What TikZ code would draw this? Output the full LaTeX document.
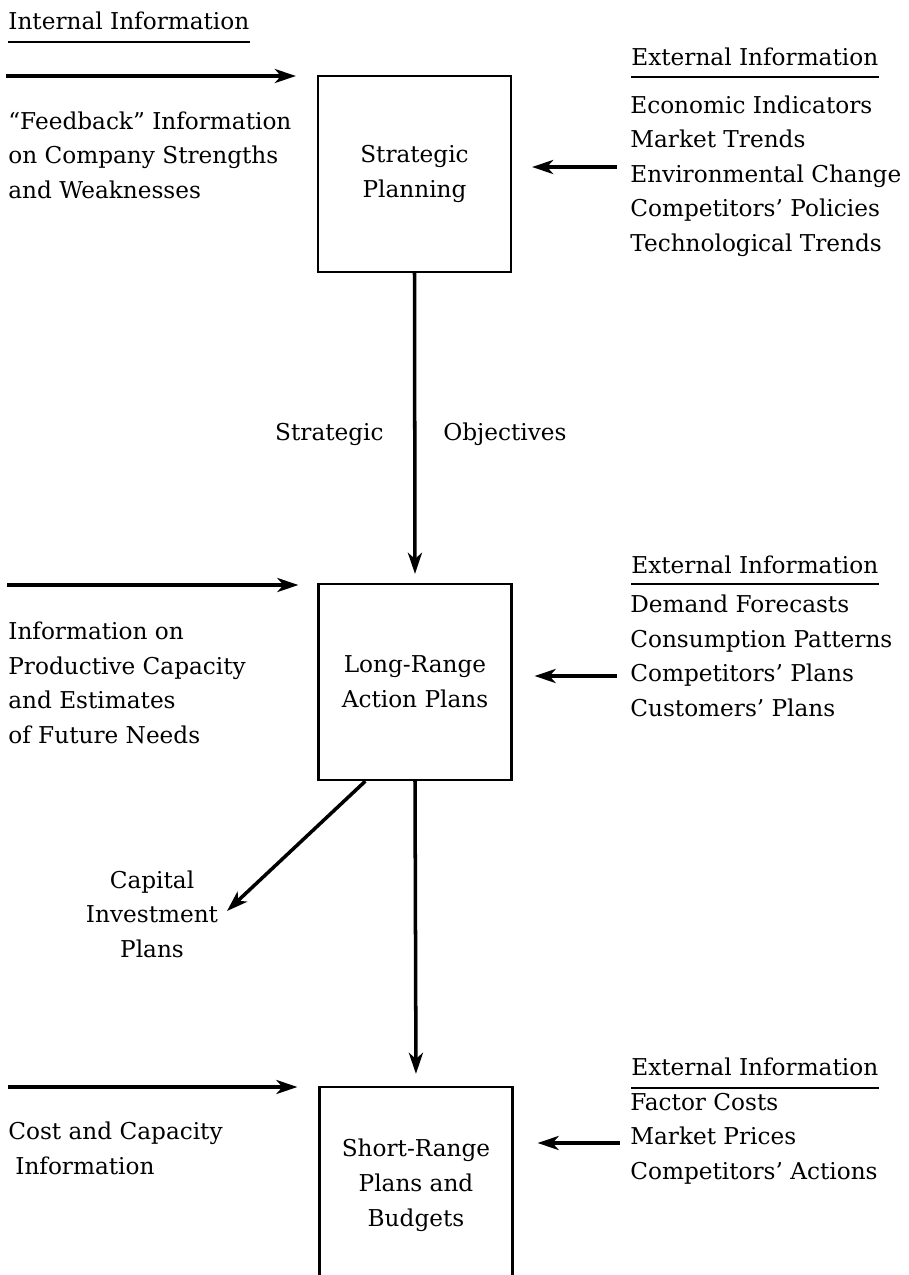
\documentclass[tikz,border=0pt]{standalone}
\usepackage{fontspec}
\setmainfont{DejaVu Serif}
\usetikzlibrary{arrows.meta}
\tikzset{
  txt/.style={font=\fontsize{13.2}{19.56}\selectfont, inner sep=0pt, align=left},
  planbox/.style={draw, line width=1.3pt, minimum width=3.86cm, minimum height=3.92cm,
    align=center, font=\fontsize{13.2}{19.8}\selectfont},
  flow/.style={line width=2pt, -{Stealth[length=12pt,width=8pt,inset=3.5pt]}},
  rule/.style={line width=0.9pt}
}
\begin{document}
\begin{tikzpicture}[x=0.02cm,y=-0.02cm]
  \useasboundingbox (0,0) rectangle (909,1275);
  \clip (0,0) rectangle (909,1275);

  % boxes
  \node[planbox] (strat) at (414.5,174) {Strategic\\Planning};
  \node[planbox] (lrap) at (415,682) {Long-Range\\Action Plans};
  \node[planbox] (srpb) at (416,1185) {Short-Range\\Plans and\\Budgets};

  % top row (base = last line)
  \node[txt, anchor=base west] (intinfo) at (8,29) {Internal Information};
  \draw[rule] ([yshift=-0.26cm]intinfo.base west) -- ([yshift=-0.26cm]intinfo.base east);
  \node[txt, anchor=base west] (feedback) at (8,198) {``Feedback'' Information\\on Company Strengths\\and Weaknesses};
  \node[txt, anchor=base west] (exthead1) at (631,65) {External Information};
  \draw[rule] ([yshift=-0.24cm]exthead1.base west) -- ([yshift=-0.24cm]exthead1.base east);
  \node[txt, anchor=base west] (extlist1) at (630,251) {Economic Indicators\\Market Trends\\Environmental Change\\Competitors' Policies\\Technological Trends};
  \coordinate (in1) at (6,76);
  \coordinate (ex1) at (617,167);
  \draw[flow, shorten >=0.42cm] (in1) -- (strat.west |- in1);
  \draw[flow, shorten >=0.4cm] (ex1) -- (strat.east |- ex1);

  % objectives
  \draw[flow, shorten >=0.18cm] (strat.south) -- (lrap.north);
  \node[txt, anchor=base east] (objl) at (384,440) {Strategic};
  \node[txt, anchor=base west] (objr) at (443,440) {Objectives};

  % middle row
  \node[txt, anchor=base west] (prodinfo) at (8,743) {Information on\\Productive Capacity\\and Estimates\\of Future Needs};
  \node[txt, anchor=base west] (exthead2) at (631,573) {External Information};
  \draw[rule] ([yshift=-0.22cm]exthead2.base west) -- ([yshift=-0.22cm]exthead2.base east);
  \node[txt, anchor=base west] (extlist2) at (630,716) {Demand Forecasts\\Consumption Patterns\\Competitors' Plans\\Customers' Plans};
  \coordinate (in2) at (7,585);
  \coordinate (ex2) at (617,676);
  \draw[flow, shorten >=0.38cm] (in2) -- (lrap.west |- in2);
  \draw[flow, shorten >=0.44cm] (ex2) -- (lrap.east |- ex2);

  % capital plans
  \node[txt, align=center, anchor=base] (capital) at (152,957) {Capital\\Investment\\Plans};
  \coordinate (capend) at (227,911);
  \draw[flow] ([xshift=0.96cm]lrap.south west) -- (capend);
  \draw[flow, shorten >=0.24cm] (lrap.south) -- (srpb.north);

  % bottom row
  \node[txt, anchor=base west] (costinfo) at (8,1174) {Cost and Capacity\\\hspace*{0.14cm}Information};
  \node[txt, anchor=base west] (exthead3) at (631,1075) {External Information};
  \draw[rule] ([yshift=-0.26cm]exthead3.base west) -- ([yshift=-0.26cm]exthead3.base east);
  \node[txt, anchor=base west] (extlist3) at (630,1179) {Factor Costs\\Market Prices\\Competitors' Actions};
  \coordinate (in3) at (8,1087);
  \coordinate (ex3) at (620,1143);
  \draw[flow, shorten >=0.42cm] (in3) -- (srpb.west |- in3);
  \draw[flow, shorten >=0.48cm] (ex3) -- (srpb.east |- ex3);
\end{tikzpicture}
\end{document}
